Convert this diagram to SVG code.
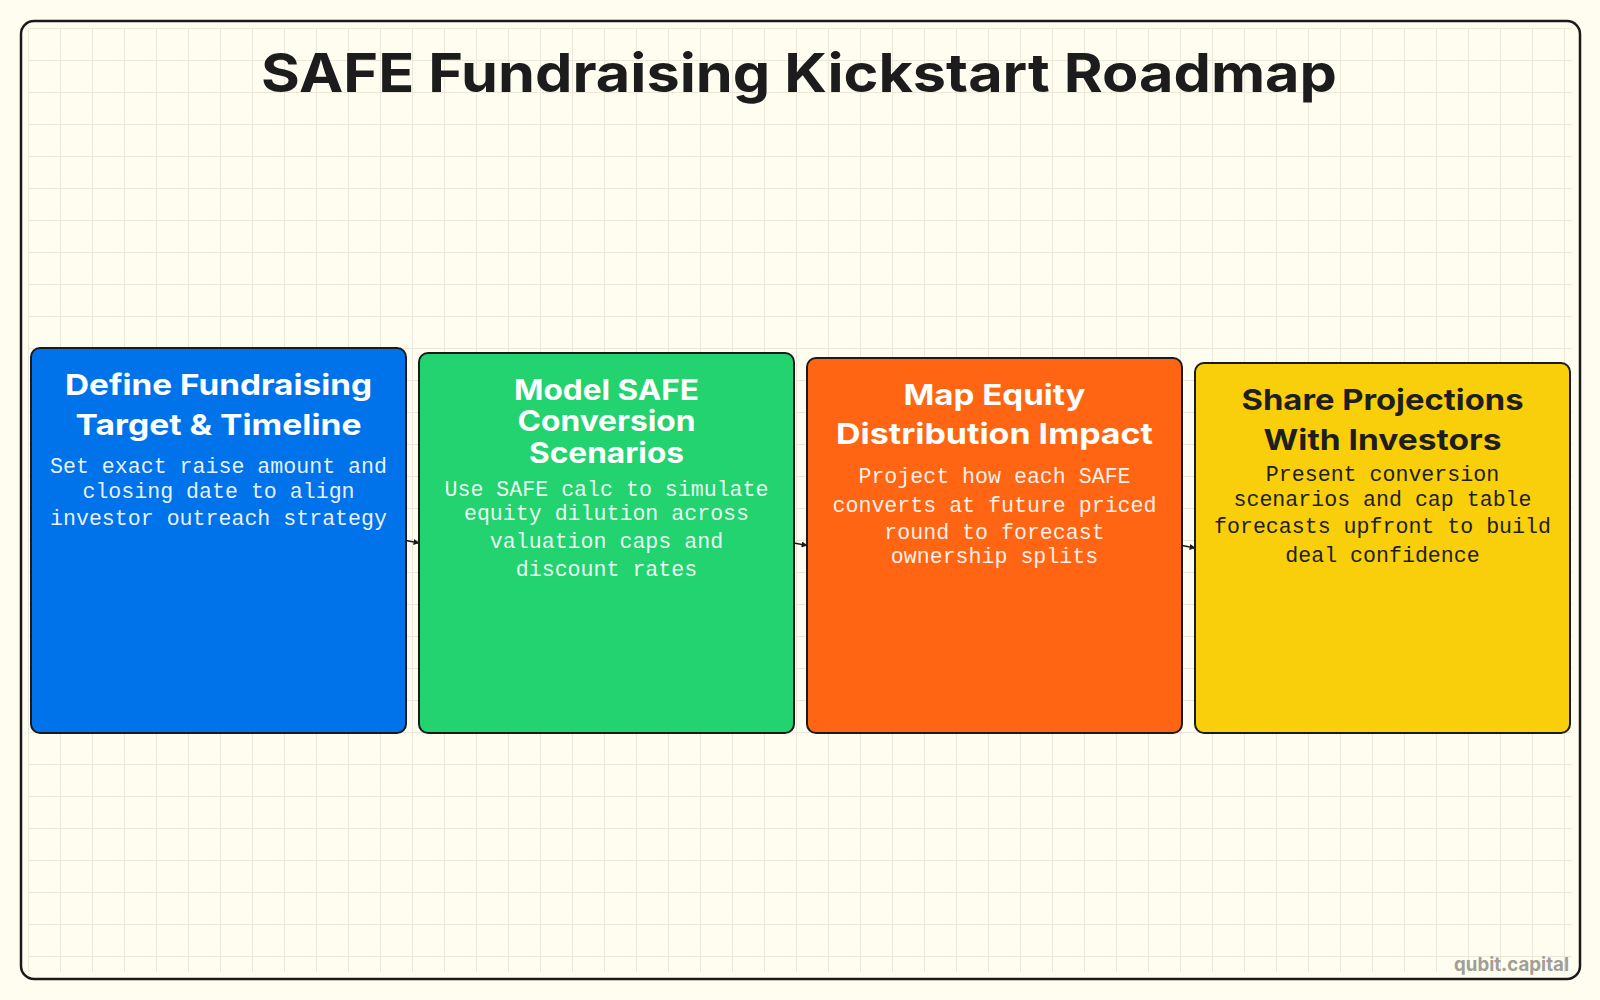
<svg xmlns="http://www.w3.org/2000/svg" width="1600" height="1000" viewBox="0 0 1600 1000">
  <style>
    .title { font-family: Inter, "Noto Sans", "Liberation Sans", sans-serif; font-weight: 700; fill: #1c1c1c; }
    .ntitle { font-family: Inter, "Noto Sans", "Liberation Sans", sans-serif; font-weight: 700; font-size: 29px; text-anchor: middle; }
    .tight { font-size: 28px; }
    .body { font-family: "Liberation Mono", "DejaVu Sans Mono", monospace; font-size: 21.6px; text-anchor: middle; }
    .light { fill: #ffffff; }
    .lightbody { fill: #ffffff; fill-opacity: 0.92; }
    .dark { fill: #1e1e1e; }
    .node { stroke: #1a1a1a; stroke-width: 2; }
    .conn { fill: none; stroke: #1a1a1a; stroke-width: 1.3; }
    .wm { font-family: Inter, "Noto Sans", "Liberation Sans", sans-serif; font-weight: 700; font-size: 19px; fill: #a09e96; text-anchor: end; }
  </style>
  <defs>
    <pattern id="grid" patternUnits="userSpaceOnUse" x="28" y="28" width="32" height="32">
      <path d="M0 0.5 H32 M0.5 0 V32" fill="none" stroke="#ebe8d9" stroke-width="1"/>
    </pattern>
    <marker id="arrow" viewBox="0 0 10 10" refX="9" refY="5" markerWidth="6" markerHeight="6" markerUnits="userSpaceOnUse" orient="auto">
      <path d="M0 0 L10 5 L0 10 Z" fill="#1a1a1a"/>
    </marker>
  </defs>

  <rect x="0" y="0" width="1600" height="1000" fill="#fffdf0"/>
  <rect x="21" y="21" width="1559" height="958" rx="13" fill="#fffdf0" stroke="#1a1a1a" stroke-width="2.5"/>
  <rect x="28" y="28" width="1544" height="944" fill="url(#grid)"/>

  <text class="title" x="799" y="92" font-size="54" text-anchor="middle" textLength="1076" lengthAdjust="spacingAndGlyphs">SAFE Fundraising Kickstart Roadmap</text>

  <g id="connectors">
    <path class="conn" d="M406 540.5 L419 543" marker-end="url(#arrow)"/>
    <path class="conn" d="M794 543 L807 545.5" marker-end="url(#arrow)"/>
    <path class="conn" d="M1182 545.5 L1195 548" marker-end="url(#arrow)"/>
  </g>

  <g id="node1">
    <rect class="node" x="31" y="348" width="375" height="385" rx="9" fill="#0073ea"/>
    <text class="ntitle light" x="218.5" y="395" textLength="307" lengthAdjust="spacingAndGlyphs">Define Fundraising</text>
    <text class="ntitle light" x="218.5" y="435" textLength="286" lengthAdjust="spacingAndGlyphs">Target &amp; Timeline</text>
    <text class="body lightbody" x="218.5" y="473">Set exact raise amount and</text>
    <text class="body lightbody" x="218.5" y="498">closing date to align</text>
    <text class="body lightbody" x="218.5" y="525">investor outreach strategy</text>
  </g>

  <g id="node2">
    <rect class="node" x="419" y="353" width="375" height="380" rx="9" fill="#22d36f"/>
    <text class="ntitle tight light" x="606.5" y="400" textLength="185" lengthAdjust="spacingAndGlyphs">Model SAFE</text>
    <text class="ntitle tight light" x="606.5" y="431" textLength="178" lengthAdjust="spacingAndGlyphs">Conversion</text>
    <text class="ntitle tight light" x="606.5" y="463" textLength="155" lengthAdjust="spacingAndGlyphs">Scenarios</text>
    <text class="body lightbody" x="606.5" y="496">Use SAFE calc to simulate</text>
    <text class="body lightbody" x="606.5" y="520">equity dilution across</text>
    <text class="body lightbody" x="606.5" y="548">valuation caps and</text>
    <text class="body lightbody" x="606.5" y="576">discount rates</text>
  </g>

  <g id="node3">
    <rect class="node" x="807" y="358" width="375" height="375" rx="9" fill="#ff6513"/>
    <text class="ntitle light" x="994.5" y="405" textLength="182" lengthAdjust="spacingAndGlyphs">Map Equity</text>
    <text class="ntitle light" x="994.5" y="444" textLength="317" lengthAdjust="spacingAndGlyphs">Distribution Impact</text>
    <text class="body lightbody" x="994.5" y="483">Project how each SAFE</text>
    <text class="body lightbody" x="994.5" y="512">converts at future priced</text>
    <text class="body lightbody" x="994.5" y="539">round to forecast</text>
    <text class="body lightbody" x="994.5" y="563">ownership splits</text>
  </g>

  <g id="node4">
    <rect class="node" x="1195" y="363" width="375" height="370" rx="9" fill="#f8cf0a"/>
    <text class="ntitle dark" x="1382.5" y="410" textLength="282" lengthAdjust="spacingAndGlyphs">Share Projections</text>
    <text class="ntitle dark" x="1382.5" y="450" textLength="238" lengthAdjust="spacingAndGlyphs">With Investors</text>
    <text class="body dark" x="1382.5" y="481">Present conversion</text>
    <text class="body dark" x="1382.5" y="506">scenarios and cap table</text>
    <text class="body dark" x="1382.5" y="533">forecasts upfront to build</text>
    <text class="body dark" x="1382.5" y="562">deal confidence</text>
  </g>

  <text class="wm" x="1569" y="971" textLength="115" lengthAdjust="spacingAndGlyphs">qubit.capital</text>
</svg>
